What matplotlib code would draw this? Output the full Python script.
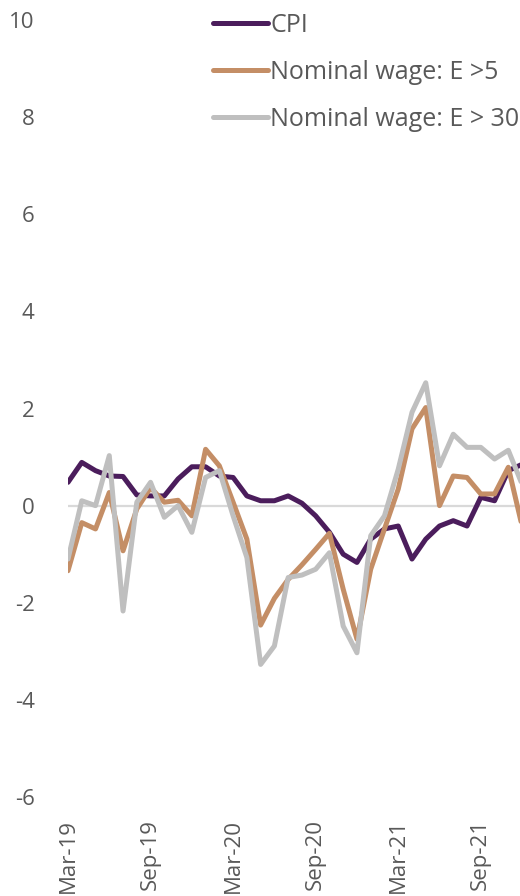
import matplotlib.pyplot as plt
import pandas as pd

plt.rcParams['font.family'] = ['Open Sans', 'DejaVu Sans']

# monthly series, Mar-2019 .. Dec-2021 (% y/y)
months = pd.date_range("2019-03-01", "2021-12-01", freq="MS")
cpi = [0.48, 0.89, 0.72, 0.61, 0.60, 0.22, 0.20, 0.20, 0.55, 0.80,
       0.80, 0.61, 0.58, 0.20, 0.10, 0.10, 0.20, 0.05, -0.21, -0.55,
       -1.00, -1.17, -0.69, -0.48, -0.42, -1.10, -0.69, -0.42, -0.31, -0.42,
       0.17, 0.10, 0.72, 0.85]
wage_e5 = [-1.34, -0.35, -0.48, 0.27, -0.93, -0.07, 0.37, 0.07, 0.11, -0.21,
           1.16, 0.82, 0.07, -0.69, -2.46, -1.91, -1.52, -1.22, -0.90, -0.57,
           -1.72, -2.75, -1.31, -0.48, 0.34, 1.58, 2.02, 0.00, 0.61, 0.58,
           0.24, 0.24, 0.79, -0.42]
wage_e30 = [-1.10, 0.10, 0.00, 1.03, -2.17, 0.07, 0.48, -0.24, 0.00, -0.55,
            0.58, 0.72, -0.21, -1.07, -3.27, -2.89, -1.48, -1.43, -1.31, -0.97,
            -2.48, -3.03, -0.62, -0.21, 0.75, 1.92, 2.53, 0.82, 1.47, 1.20,
            1.20, 0.96, 1.14, 0.44]
labels = ["CPI", "Nominal wage: E >5", "Nominal wage: E > 30"]
colors = ["#4B1D5C", "#C48E66", "#BFBFBF"]
yticks = [-6, -4, -2, 0, 2, 4, 6, 8, 10]
text_color = "#595959"

fig = plt.figure(figsize=(5.2, 8.96), dpi=100)
ax = fig.add_axes([68 / 520, 99 / 896, 452 / 520, 777 / 896])

x = list(range(len(months)))
ax.axhline(0, color="#D9D9D9", lw=1.6, zorder=1)
for y, lab, c in zip([cpi, wage_e5, wage_e30], labels, colors):
    ax.plot(x, y, color=c, lw=3.6, label=lab, solid_joinstyle="round",
            solid_capstyle="round", zorder=2)

ax.set_xlim(0, 32.85)
ax.set_ylim(-6, 10)
ax.set_yticks(yticks)
ax.set_yticklabels([str(v) for v in yticks])
tick_pos = x[::6]
ax.set_xticks(tick_pos)
ax.set_xticklabels([months[i].strftime("%b-%y") for i in tick_pos], rotation=90,
                   va="top", ha="center")
ax.tick_params(axis="both", length=0, labelsize=16, labelcolor=text_color)
ax.tick_params(axis="y", pad=24)
ax.tick_params(axis="x", pad=16)
for s in ax.spines.values():
    s.set_visible(False)

leg = ax.legend(loc="upper left", bbox_to_anchor=(213 / 520, 1 - 13 / 896),
                bbox_transform=fig.transFigure, frameon=False, fontsize=18,
                handlelength=2.2, handletextpad=0.08, labelspacing=0.88,
                borderaxespad=0, borderpad=0)
for t in leg.get_texts():
    t.set_color(text_color)
for h in leg.get_lines():
    h.set_solid_capstyle("round")

fig.savefig("out.png", dpi=100)
